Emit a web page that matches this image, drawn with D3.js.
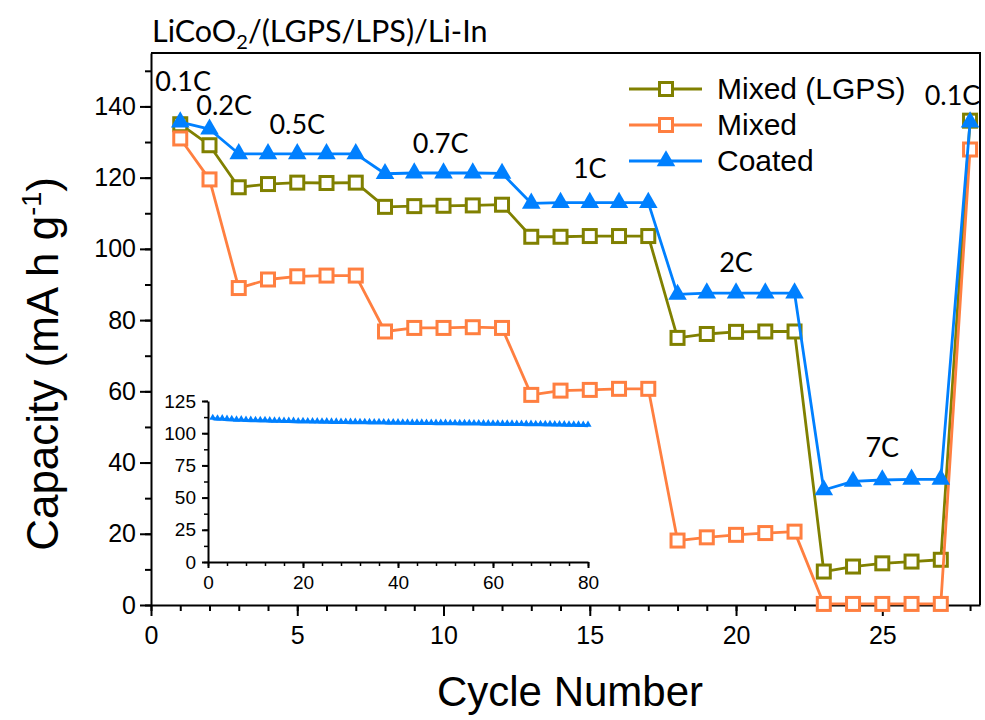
<!DOCTYPE html>
<html>
<head>
<meta charset="utf-8">
<script src="https://cdn.jsdelivr.net/npm/d3@7"></script>
<style>
  html, body { margin: 0; padding: 0; background: #fff; }
  svg { display: block; }
  text { fill: #000; }
</style>
</head>
<body>
<svg id="chart" width="985" height="720"></svg>
<script>
// Rate-capability data: discharge capacity per cycle
const cycles = [1,2,3,4,5,6,7,8,9,10,11,12,13,14,15,16,17,18,19,20,21,22,23,24,25,26,27,28];
const mixedLGPS = [135.0,129.1,117.3,118.2,118.6,118.5,118.6,111.8,112.0,112.1,112.2,112.4,103.4,103.4,103.6,103.6,103.6,75.0,76.1,76.7,76.8,76.8,9.4,10.8,11.7,12.2,12.7,136.0];
const mixed = [131.0,119.5,89.0,91.4,92.3,92.5,92.5,76.8,77.8,77.8,78.0,77.8,59.0,60.2,60.4,60.7,60.7,18.1,19.0,19.7,20.2,20.6,0.3,0.3,0.3,0.3,0.3,127.9];
const coated = [135.6,133.6,126.7,126.7,126.7,126.7,126.7,121.1,121.3,121.3,121.3,121.2,112.8,113.0,113.0,113.0,113.0,87.2,87.6,87.6,87.6,87.6,32.3,34.7,35.1,35.3,35.3,135.6];

// C-rate annotations: [label, cycle position, capacity position]
const rateLabels = ["0.1C","0.2C","0.5C","0.7C","1C","2C","7C","0.1C"];
const rateX = [1.1, 2.5, 5.0, 9.9, 15.0, 20.0, 25.0, 27.4];
const rateY = [144.2, 137.7, 132.3, 127.0, 119.9, 93.5, 41.6, 140.5];

// Long-term cycling of the coated cell (inset)
const insetCycles = d3.range(1, 81);
const insetCapacity = [
  111.2,110.8,110.9,110.5,110.3,110.0,110.1,109.8,109.7,109.6,
  109.5,109.6,109.3,109.2,109.2,109.0,109.0,108.9,108.7,108.8,
  108.7,108.6,108.6,108.5,108.6,108.4,108.4,108.3,108.3,108.2,
  108.2,108.1,108.1,108.0,107.9,108.0,107.9,107.8,107.9,107.8,
  107.7,107.7,107.6,107.7,107.6,107.5,107.5,107.4,107.5,107.4,
  107.3,107.3,107.2,107.3,107.2,107.1,107.1,107.0,107.0,106.9,
  106.9,106.8,106.9,106.8,106.7,106.7,106.6,106.6,106.5,106.5,
  106.4,106.4,106.3,106.3,106.2,106.1,106.1,106.0,105.9,105.8
];

const xTicks = [0,5,10,15,20,25];
const yTicks = [0,20,40,60,80,100,120,140];
const insetXTicks = [0,20,40,60,80];
const insetYTicks = [0,25,50,75,100,125];

const seriesNames = ["Mixed (LGPS)", "Mixed", "Coated"];
const seriesData = [mixedLGPS, mixed, coated];
const seriesColors = ["#808000", "#FF7F40", "#0080FF"];
const seriesShapes = ["square", "square", "triangle"];

const svg = d3.select("#chart");
const ARIAL = "'Liberation Sans', Arial, sans-serif";
const CAL = "Lato, 'Open Sans', sans-serif";

// ---------- main plot ----------
const L = 151, R = 980, T = 53, B = 605;
const x = d3.scaleLinear().domain([0, 28.34]).range([L, R]);
const y = d3.scaleLinear().domain([0, 155]).range([B, T]);

// frame
svg.append("path")
  .attr("d", `M${L},${T}H${R}V${B}`)
  .attr("fill", "none").attr("stroke", "#000").attr("stroke-width", 2);

// minor ticks
svg.append("g").attr("transform", `translate(0,${B})`)
  .call(d3.axisBottom(x).tickValues(d3.range(0, 29, 1)).tickSize(6).tickFormat(""))
  .call(g => g.select(".domain").remove())
  .call(g => g.selectAll("line").attr("stroke-width", 2));
svg.append("g").attr("transform", `translate(${L},0)`)
  .call(d3.axisLeft(y).tickValues(d3.range(0, 151, 10)).tickSize(6).tickFormat(""))
  .call(g => g.select(".domain").remove())
  .call(g => g.selectAll("line").attr("stroke-width", 2));

// major ticks + labels
const xAxis = svg.append("g").attr("transform", `translate(0,${B})`)
  .call(d3.axisBottom(x).tickValues(xTicks).tickSize(11).tickPadding(10).tickSizeOuter(0));
xAxis.select(".domain").attr("stroke-width", 2);
xAxis.selectAll("line").attr("stroke-width", 2);
xAxis.selectAll("text").attr("font-family", ARIAL).attr("font-size", 25).attr("fill", "#000");

const yAxis = svg.append("g").attr("transform", `translate(${L},0)`)
  .call(d3.axisLeft(y).tickValues(yTicks).tickSize(11).tickPadding(4).tickSizeOuter(0));
yAxis.select(".domain").attr("stroke-width", 2);
yAxis.selectAll("line").attr("stroke-width", 2);
yAxis.selectAll("text").attr("font-family", ARIAL).attr("font-size", 25).attr("fill", "#000");

// axis titles
svg.append("text")
  .attr("x", 570).attr("y", 706)
  .attr("text-anchor", "middle")
  .attr("font-family", ARIAL).attr("font-size", 42)
  .text("Cycle Number");

const yt = svg.append("text")
  .attr("transform", "translate(58,364) rotate(-90)")
  .attr("text-anchor", "middle")
  .attr("font-family", ARIAL).attr("font-size", 44);
yt.append("tspan").text("Capacity (mA h g");
yt.append("tspan").attr("font-size", 27).attr("dy", -17).text("-1");
yt.append("tspan").attr("dy", 17).text(")");

// title
const title = svg.append("text")
  .attr("x", 152).attr("y", 42)
  .attr("font-family", CAL).attr("font-size", 30.5);
title.append("tspan").text("LiCoO");
title.append("tspan").attr("font-size", 20).attr("dy", 7).text("2");
title.append("tspan").attr("dy", -7).text("/(LGPS/LPS)/Li-In");

// ---------- markers ----------
const triPath = d3.symbol(d3.symbolTriangle, 150)();
function drawMarker(g, shape, color, cx, cy) {
  if (shape === "triangle") {
    g.append("path").attr("d", triPath)
      .attr("transform", `translate(${cx},${cy})`)
      .attr("fill", color);
  } else {
    const s = 13;
    g.append("rect")
      .attr("x", cx - s / 2).attr("y", cy - s / 2)
      .attr("width", s).attr("height", s)
      .attr("fill", "#fff").attr("stroke", color).attr("stroke-width", 3);
  }
}

const line = d3.line().x((d, i) => x(cycles[i])).y(d => y(d));
seriesData.forEach((vals, k) => {
  const g = svg.append("g");
  g.append("path").datum(vals).attr("d", line)
    .attr("fill", "none").attr("stroke", seriesColors[k]).attr("stroke-width", 2.8)
    .attr("stroke-linejoin", "round");
  vals.forEach((v, i) => drawMarker(g, seriesShapes[k], seriesColors[k], x(cycles[i]), y(v)));
});

// C-rate labels
rateLabels.forEach((t, i) => {
  svg.append("text")
    .attr("x", x(rateX[i])).attr("y", y(rateY[i]))
    .attr("text-anchor", "middle")
    .attr("font-family", CAL).attr("font-size", 27)
    .text(t);
});

// legend
const legY = [89, 125, 161];
seriesNames.forEach((n, k) => {
  const g = svg.append("g");
  g.append("line").attr("x1", 629).attr("x2", 702).attr("y1", legY[k]).attr("y2", legY[k])
    .attr("stroke", seriesColors[k]).attr("stroke-width", 2.8);
  drawMarker(g, seriesShapes[k], seriesColors[k], 666, legY[k]);
  g.append("text").attr("x", 717).attr("y", legY[k] + 10)
    .attr("font-family", ARIAL).attr("font-size", 30).text(n);
});

// ---------- inset ----------
const iL = 208, iR = 588, iT = 401, iB = 562;
const ix = d3.scaleLinear().domain([0, 80]).range([iL, iR]);
const iy = d3.scaleLinear().domain([0, 125]).range([iB, iT]);

svg.append("g").attr("transform", `translate(0,${iB})`)
  .call(d3.axisBottom(ix).tickValues(d3.range(0, 81, 4)).tickSize(4).tickFormat(""))
  .call(g => g.select(".domain").remove())
  .call(g => g.selectAll("line").attr("stroke-width", 1.5));
svg.append("g").attr("transform", `translate(${iL},0)`)
  .call(d3.axisLeft(iy).tickValues(d3.range(0, 126, 12.5)).tickSize(4).tickFormat(""))
  .call(g => g.select(".domain").remove())
  .call(g => g.selectAll("line").attr("stroke-width", 1.5));

const ixAxis = svg.append("g").attr("transform", `translate(0,${iB})`)
  .call(d3.axisBottom(ix).tickValues(insetXTicks).tickSize(6).tickPadding(8).tickSizeOuter(0));
ixAxis.selectAll("line, .domain").attr("stroke-width", 2);
ixAxis.selectAll("text").attr("font-family", ARIAL).attr("font-size", 19).attr("fill", "#000");

const iyAxis = svg.append("g").attr("transform", `translate(${iL},0)`)
  .call(d3.axisLeft(iy).tickValues(insetYTicks).tickSize(6).tickPadding(6).tickSizeOuter(0));
iyAxis.selectAll("line, .domain").attr("stroke-width", 2);
iyAxis.selectAll("text").attr("font-family", ARIAL).attr("font-size", 19).attr("fill", "#000");

const iline = d3.line().x((d, i) => ix(insetCycles[i])).y(d => iy(d));
svg.append("path").datum(insetCapacity).attr("d", iline)
  .attr("fill", "none").attr("stroke", "#0080FF").attr("stroke-width", 3);
const smallTri = d3.symbol(d3.symbolTriangle, 22)();
svg.append("g").selectAll("path").data(insetCapacity).join("path")
  .attr("d", smallTri)
  .attr("transform", (d, i) => `translate(${ix(insetCycles[i])},${iy(d) - 1})`)
  .attr("fill", "#0080FF");
</script>
</body>
</html>
